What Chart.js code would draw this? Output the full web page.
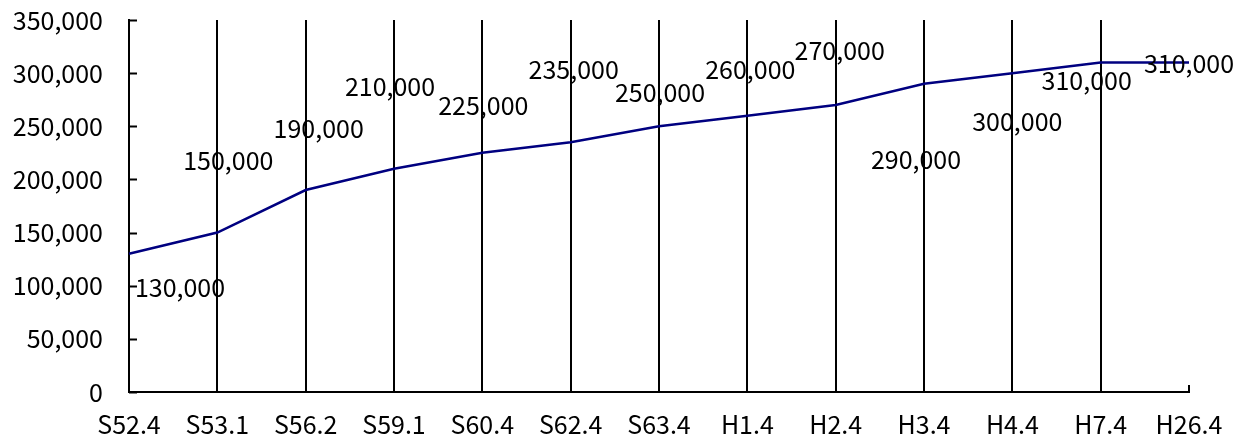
<!DOCTYPE html>
<html>
<head>
<meta charset="utf-8">
<script src="https://cdn.jsdelivr.net/npm/chart.js@4/dist/chart.umd.min.js"></script>
<style>
  html, body { margin: 0; padding: 0; background: #fff; }
  #wrap { width: 1253px; height: 441px; }
</style>
</head>
<body>
<div id="wrap"><canvas id="c" width="1253" height="441"></canvas></div>
<script>
// 年度ごとの推移
const periods = ['S52.4', 'S53.1', 'S56.2', 'S59.1', 'S60.4', 'S62.4', 'S63.4', 'H1.4', 'H2.4', 'H3.4', 'H4.4', 'H7.4', 'H26.4'];
const amounts = [130000, 150000, 190000, 210000, 225000, 235000, 250000, 260000, 270000, 290000, 300000, 310000, 310000];
const yTicks = [0, 50000, 100000, 150000, 200000, 250000, 300000, 350000];

const FONT = { family: '"Noto Sans CJK JP", "Liberation Sans", sans-serif', size: 25 };
const fmt = v => v.toLocaleString('en-US');

// value labels, nudged from their points so they do not collide
const labelNudge = [[51, 34], [11, -72], [13, -62], [-4, -82], [1, -47], [3, -73], [1, -34], [3, -46], [4, -55], [-8, 76], [5, 48], [-14, 18], [0, 1]];

const frame = {
  id: 'frame',
  afterDatasetsDraw(chart) {
    const { ctx, scales: { x, y }, chartArea } = chart;
    ctx.save();
    ctx.strokeStyle = '#000';
    ctx.lineWidth = 2;
    // inward tick marks on the value axis
    yTicks.forEach(v => {
      const py = Math.round(y.getPixelForValue(v)) + 0.5;
      ctx.beginPath();
      ctx.moveTo(chartArea.left, py);
      ctx.lineTo(chartArea.left + 8, py);
      ctx.stroke();
    });
    // closing mark at the end of the category axis
    const ex = x.getPixelForValue(periods.length - 1);
    ctx.beginPath();
    ctx.moveTo(ex, chartArea.bottom);
    ctx.lineTo(ex, chartArea.bottom - 7);
    ctx.stroke();

    // value labels
    const meta = chart.getDatasetMeta(0);
    ctx.fillStyle = '#000';
    ctx.font = `${FONT.size}px ${FONT.family}`;
    ctx.textAlign = 'center';
    ctx.textBaseline = 'middle';
    meta.data.forEach((pt, i) => {
      const [dx, dy] = labelNudge[i];
      ctx.fillText(fmt(amounts[i]), pt.x + dx, pt.y + dy);
    });
    ctx.restore();
  }
};

new Chart(document.getElementById('c'), {
  type: 'line',
  data: {
    labels: periods,
    datasets: [{
      data: amounts,
      borderColor: '#000080',
      borderWidth: 2.5,
      pointRadius: 0,
      tension: 0,
      fill: false
    }]
  },
  options: {
    responsive: false,
    animation: false,
    layout: { padding: { top: 20, right: 64, left: 0, bottom: 0 } },
    plugins: { legend: { display: false }, tooltip: { enabled: false } },
    scales: {
      x: {
        offset: false,
        grid: {
          drawTicks: false,
          lineWidth: 2,
          color: c => (c.index === 0 || c.index === periods.length - 1) ? 'rgba(0,0,0,0)' : '#000'
        },
        border: { display: true, color: '#000', width: 2 },
        ticks: { color: '#000', font: FONT, padding: 17, maxRotation: 0, autoSkip: false },
        afterFit: s => { s.height = 49; }
      },
      y: {
        min: 0,
        max: 350000,
        afterBuildTicks: s => { s.ticks = yTicks.map(v => ({ value: v })); },
        grid: { display: false, drawTicks: false },
        border: { display: true, color: '#000', width: 2 },
        ticks: { color: '#000', font: FONT, padding: 26, callback: v => fmt(v) },
        afterFit: s => { s.width = 129; s.paddingTop = 0; s.paddingBottom = 0; }
      }
    }
  },
  plugins: [frame]
});
</script>
</body>
</html>
